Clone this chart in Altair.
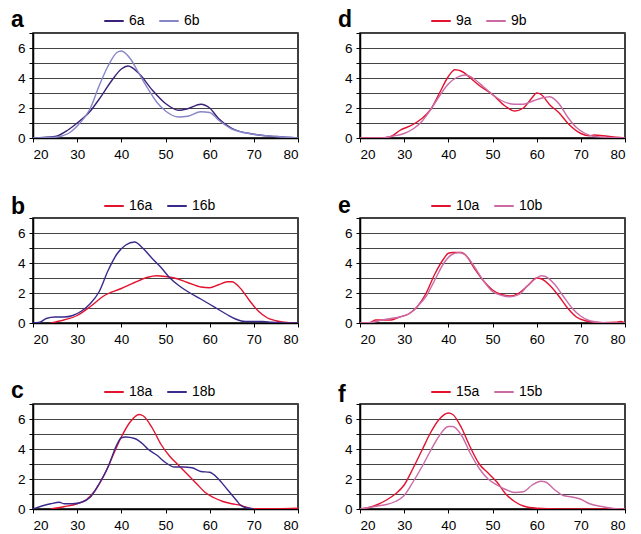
import altair as alt
import pandas as pd

FONT = "Liberation Sans"

# ---------------- data ----------------
# panel a
a1_name = "6a"
a1_x = [20, 25, 28, 30, 33, 35, 38, 40, 41.5, 44, 47, 50, 53, 55, 58, 60, 62, 65, 70, 75, 80]
a1_y = [0, 0.1, 0.55, 1.0, 1.8, 2.6, 3.9, 4.6, 4.8, 4.3, 3.2, 2.3, 1.85, 1.95, 2.25, 2.0, 1.3, 0.65, 0.25, 0.1, 0]
a2_name = "6b"
a2_x = [20, 25, 28, 30, 33, 35, 37, 39, 40, 42, 44, 46, 48, 50, 53, 55, 58, 60, 62, 65, 70, 75, 80]
a2_y = [0, 0.05, 0.3, 0.8, 2.0, 3.5, 4.8, 5.7, 5.8, 5.3, 4.3, 3.3, 2.4, 1.8, 1.4, 1.45, 1.75, 1.7, 1.2, 0.6, 0.25, 0.1, 0]

# panel b
b1_name = "16a"
b1_x = [24, 27, 30, 33, 36, 40, 43, 46, 48, 50, 52, 55, 58, 60, 62, 64, 65, 67, 69, 71, 73, 75, 78, 80]
b1_y = [0, 0.2, 0.5, 1.1, 1.8, 2.3, 2.7, 3.05, 3.15, 3.1, 3.0, 2.7, 2.4, 2.35, 2.55, 2.75, 2.75, 2.3, 1.5, 0.8, 0.35, 0.15, 0.02, 0]
b2_name = "16b"
b2_x = [20, 21.5, 23, 25, 27, 29, 31, 33, 35, 37, 39, 41, 43, 45, 47, 49, 51, 53, 55, 58, 60, 62, 64, 66, 68, 72, 74, 76, 80]
b2_y = [0, 0.05, 0.3, 0.4, 0.4, 0.5, 0.8, 1.3, 2.1, 3.5, 4.6, 5.2, 5.4, 4.95, 4.3, 3.7, 3.0, 2.5, 2.1, 1.6, 1.25, 0.9, 0.55, 0.25, 0.1, 0.1, 0.05, 0.02, 0]

# panel c
c1_name = "18a"
c1_x = [24, 27, 30, 32, 34, 36, 38, 40, 42, 44, 45, 47, 49, 51, 53, 55, 57, 59, 61, 63, 65, 67, 68, 70, 75, 80]
c1_y = [0, 0.15, 0.35, 0.6, 1.2, 2.2, 3.5, 4.8, 5.8, 6.3, 6.2, 5.4, 4.3, 3.5, 2.9, 2.3, 1.7, 1.1, 0.75, 0.5, 0.35, 0.25, 0.15, 0.02, 0.02, 0.05]
c2_name = "18b"
c2_x = [20, 22, 24, 26, 27, 29, 31, 33, 35, 37, 39, 40, 41, 43, 45, 46, 48, 50, 52, 54, 56, 58, 60, 62, 64, 66, 67, 68, 70]
c2_y = [0, 0.2, 0.35, 0.45, 0.35, 0.35, 0.45, 0.8, 1.7, 2.8, 4.3, 4.75, 4.8, 4.7, 4.3, 4.0, 3.6, 3.1, 2.8, 2.8, 2.75, 2.5, 2.45, 2.0, 1.3, 0.6, 0.25, 0.1, 0]

# panel d
d1_name = "9a"
d1_x = [20, 25, 27, 29, 32, 34, 36, 38, 40, 41.5, 43, 45, 47, 50, 53, 55, 57, 59, 60, 61, 63, 65, 67, 70, 72, 73, 75, 78, 80]
d1_y = [0, 0, 0.1, 0.5, 0.9, 1.3, 1.9, 3.0, 4.1, 4.55, 4.45, 4.0, 3.5, 2.9, 2.1, 1.8, 2.0, 2.7, 3.0, 2.9, 2.2, 1.7, 1.0, 0.3, 0.15, 0.2, 0.15, 0.05, 0]
d2_name = "9b"
d2_x = [20, 25, 27, 30, 32, 34, 36, 38, 40, 42, 44, 46, 48, 50, 52, 55, 57, 59, 61, 63, 65, 67, 69, 71, 73, 75, 80]
d2_y = [0, 0, 0.1, 0.3, 0.6, 1.1, 1.9, 2.8, 3.6, 4.05, 4.2, 3.9, 3.4, 2.9, 2.5, 2.25, 2.25, 2.45, 2.65, 2.75, 2.3, 1.4, 0.7, 0.3, 0.1, 0.05, 0]

# panel e
e1_name = "10a"
e1_x = [20, 22, 23.5, 25, 27, 29, 31, 33, 35, 37, 39, 40, 41, 43, 44, 46, 48, 50, 52, 54, 56, 58, 60, 61, 63, 65, 67, 69, 71, 73, 75, 78, 79, 80]
e1_y = [0, 0, 0.2, 0.2, 0.2, 0.4, 0.6, 1.1, 2.0, 3.3, 4.3, 4.65, 4.7, 4.7, 4.5, 3.6, 2.8, 2.2, 1.9, 1.8, 2.0, 2.5, 3.0, 2.95, 2.5, 1.8, 1.0, 0.4, 0.15, 0.05, 0.02, 0.05, 0.1, 0]
e2_name = "10b"
e2_x = [20, 23, 25, 27, 29, 31, 33, 35, 37, 39, 41, 42.5, 44, 46, 48, 50, 52, 54, 56, 58, 60, 61, 62, 64, 66, 68, 70, 72, 75, 80]
e2_y = [0, 0.05, 0.2, 0.3, 0.4, 0.6, 1.1, 1.8, 2.9, 4.0, 4.6, 4.7, 4.5, 3.7, 2.8, 2.1, 1.85, 1.75, 1.9, 2.5, 3.0, 3.15, 3.1, 2.6, 1.8, 1.0, 0.45, 0.15, 0.02, 0]

# panel f
f1_name = "15a"
f1_x = [20, 22, 24, 26, 28, 30, 32, 34, 36, 38, 40, 41, 43, 45, 47, 49, 51, 53, 55, 57, 60, 65, 80]
f1_y = [0, 0.1, 0.3, 0.6, 1.0, 1.6, 2.7, 3.9, 5.1, 6.0, 6.4, 6.3, 5.4, 4.1, 3.0, 2.4, 1.8, 1.0, 0.5, 0.2, 0.05, 0, 0]
f2_name = "15b"
f2_x = [20, 22, 24, 26, 28, 30, 32, 34, 36, 38, 40, 41, 43, 45, 47, 49, 51, 53, 55, 57, 59, 61, 62, 64, 66, 68, 70, 72, 75, 78, 80]
f2_y = [0, 0.1, 0.2, 0.3, 0.5, 0.9, 1.8, 2.8, 3.9, 4.9, 5.5, 5.5, 4.9, 3.7, 2.7, 2.0, 1.6, 1.3, 1.1, 1.15, 1.6, 1.85, 1.8, 1.3, 0.9, 0.8, 0.65, 0.35, 0.15, 0.02, 0]

x_ticks = [20, 30, 40, 50, 60, 70, 80]
y_ticks = [0, 1, 2, 3, 4, 5, 6, 7]

RED = "#e3122f"
PINK = "#cc6aa6"
DARK = "#3a2278"
LAV = "#8585c8"
NAVY = "#3b2a8c"

panels = [
    ("a", -6, a1_name, a1_x, a1_y, DARK, a2_name, a2_x, a2_y, LAV),
    ("d", -6, d1_name, d1_x, d1_y, RED, d2_name, d2_x, d2_y, PINK),
    ("b", -4, b1_name, b1_x, b1_y, RED, b2_name, b2_x, b2_y, NAVY),
    ("e", -5, e1_name, e1_x, e1_y, RED, e2_name, e2_x, e2_y, PINK),
    ("c", -6, c1_name, c1_x, c1_y, RED, c2_name, c2_x, c2_y, NAVY),
    ("f", -2, f1_name, f1_x, f1_y, RED, f2_name, f2_x, f2_y, PINK),
]

W, H = 265, 105


def panel(letter, ly, n1, x1, y1, col1, n2, x2, y2, col2):
    df = pd.concat([
        pd.DataFrame({"x": x1, "y": y1, "s": n1}),
        pd.DataFrame({"x": x2, "y": y2, "s": n2}),
    ])
    lines = alt.Chart(df).mark_line(
        interpolate="monotone", strokeWidth=1.4, clip=True
    ).encode(
        x=alt.X("x:Q", scale=alt.Scale(domain=[20, 80], nice=False),
                axis=alt.Axis(values=x_ticks, title=None, grid=False,
                              labelFontSize=13.5, labelFont=FONT, labelColor="black",
                              domainColor="black", domainWidth=1.5,
                              tickColor="black", tickSize=4, labelPadding=5)),
        y=alt.Y("y:Q", scale=alt.Scale(domain=[0, 7], nice=False),
                axis=alt.Axis(values=y_ticks, title=None, grid=True,
                              gridColor="#444444", gridWidth=1.2,
                              labelExpr="datum.value % 2 == 0 && datum.value < 7 ? datum.label : ''",
                              labelFontSize=13.5, labelFont=FONT, labelColor="black",
                              domainColor="black", domainWidth=1.5,
                              tickColor="black", tickSize=4, labelPadding=4)),
        color=alt.Color("s:N", scale=alt.Scale(domain=[n1, n2], range=[col1, col2]),
                        legend=alt.Legend(title=None, orient="none", direction="horizontal",
                                          legendX=70, legendY=-23,
                                          symbolType="stroke", symbolSize=380,
                                          symbolStrokeWidth=2, labelFontSize=14,
                                          labelFont=FONT, labelColor="black",
                                          columnPadding=10)),
    )
    label = alt.Chart(pd.DataFrame({"t": [letter]})).mark_text(
        font=FONT, fontSize=23, fontWeight="bold", color="black",
        align="left", baseline="alphabetic"
    ).encode(text="t:N", x=alt.value(-22), y=alt.value(ly))
    return alt.layer(lines, label).properties(width=W, height=H)


charts = [panel(*p) for p in panels]
rows = [alt.hconcat(charts[i], charts[i + 1], spacing=37).resolve_scale(color="independent")
        for i in (0, 2, 4)]
chart = alt.vconcat(*rows, spacing=32).resolve_scale(color="independent").configure_view(
    stroke="black", strokeWidth=1.5
).properties(padding={"left": 2, "top": 0, "right": 0, "bottom": -1})

chart.save("out.html", embed_options={"renderer": "svg", "actions": False})
